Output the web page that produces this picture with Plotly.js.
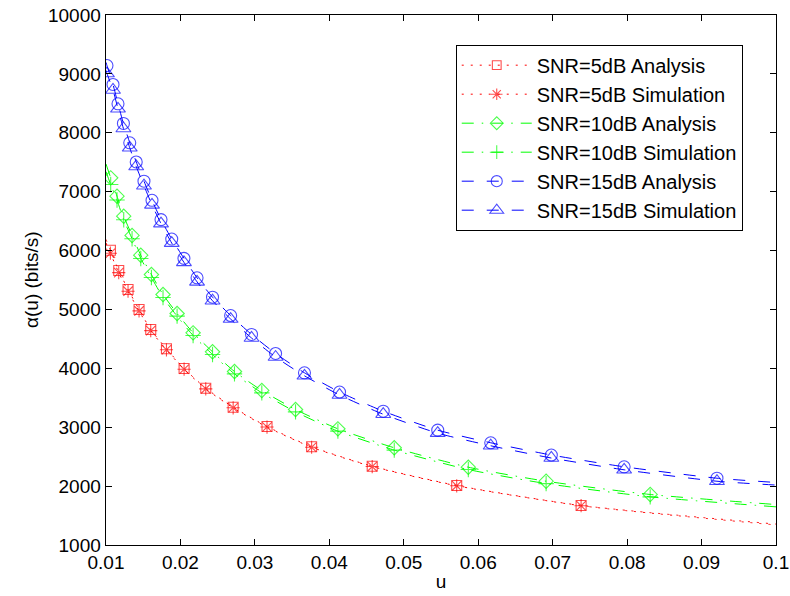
<!DOCTYPE html>
<html>
<head>
<meta charset="utf-8">
<script src="https://cdn.plot.ly/plotly-3.0.1.min.js"></script>
<style>html,body{margin:0;padding:0;background:#fff;}</style>
</head>
<body>
<div id="chart" style="width:790px;height:596px;"></div>
<script>
// ---- tick labels ----
const xTickVals = [0.01, 0.02, 0.03, 0.04, 0.05, 0.06, 0.07, 0.08, 0.09, 0.1];
const xTickText = ['0.01', '0.02', '0.03', '0.04', '0.05', '0.06', '0.07', '0.08', '0.09', '0.1'];
const yTickVals = [1000, 2000, 3000, 4000, 5000, 6000, 7000, 8000, 9000, 10000];
const yTickText = ['1000', '2000', '3000', '4000', '5000', '6000', '7000', '8000', '9000', '10000'];

// ---- series names ----
const seriesNames = ['SNR=5dB Analysis', 'SNR=5dB Simulation', 'SNR=10dB Analysis',
                     'SNR=10dB Simulation', 'SNR=15dB Analysis', 'SNR=15dB Simulation'];

// ---- SNR = 5 dB ----
const u5 = [0.0100, 0.01059, 0.01171, 0.01296, 0.01444, 0.01601, 0.01812, 0.02049, 0.02340,
            0.02708, 0.03163, 0.03762, 0.04576, 0.05711, 0.07382, 0.1000];
const alpha5Analysis = [6188, 6006, 5661, 5339, 4999, 4659, 4332, 3997, 3663,
                        3340, 3012, 2668, 2338, 2010, 1671, 1355];
const alpha5Simulation = [6130, 5955, 5625, 5310, 4975, 4640, 4315, 3985, 3652,
                          3330, 3003, 2660, 2332, 2005, 1667, 1340];

// ---- SNR = 10 dB ----
const u10 = [0.0100, 0.01063, 0.01148, 0.01238, 0.01350, 0.01467, 0.01610, 0.01766, 0.01955,
             0.02170, 0.02431, 0.02726, 0.03093, 0.03546, 0.04115, 0.04872, 0.05867, 0.06912,
             0.08310, 0.1000];
const alpha10Analysis = [7470, 7235, 6923, 6583, 6256, 5921, 5593, 5254, 4931,
                         4603, 4281, 3946, 3624, 3301, 2973, 2651, 2321, 2083,
                         1858, 1687];
const alpha10Simulation = [7340, 7121, 6858, 6523, 6201, 5866, 5543, 5204, 4886,
                           4558, 4236, 3906, 3584, 3261, 2933, 2611, 2281, 2043,
                           1818, 1648];

// ---- SNR = 15 dB ----
const u15 = [0.0100, 0.01013, 0.01094, 0.01161, 0.01234, 0.01319, 0.01406, 0.01510, 0.01618,
             0.01739, 0.01883, 0.02047, 0.02223, 0.02431, 0.02674, 0.02955, 0.03278, 0.03666,
             0.04137, 0.04724, 0.05456, 0.06168, 0.06982, 0.07960, 0.09207, 0.1000];
const alpha15Analysis = [9195, 9142, 8820, 8492, 8158, 7830, 7504, 7178, 6853,
                         6526, 6195, 5868, 5537, 5208, 4897, 4575, 4252, 3924,
                         3598, 3272, 2950, 2736, 2528, 2328, 2134, 2062];
const alpha15Simulation = [9060, 9006, 8726, 8407, 8073, 7745, 7427, 7101, 6776,
                           6458, 6127, 5800, 5469, 5148, 4837, 4515, 4192, 3873,
                           3547, 3221, 2899, 2685, 2477, 2277, 2083, 2018];

const RED = 'rgb(255,0,0)', GREEN = 'rgb(0,255,0)', BLUE = 'rgb(0,0,255)';
const DOT = '2px,7px';
const DASHDOT = '12px,8px,1.5px,8px';
const DASH = '12px,13px';
const FONT = 'Liberation Sans, Arial, sans-serif';

function sizes(arr, s) {
  return arr.map((_, i) => (i === 0 || i === arr.length - 1) ? 0 : s);
}

function mk(name, x, y, color, dash, symbol, msize) {
  return {
    type: 'scatter', mode: 'lines+markers', name: name,
    x: x, y: y,
    line: {color: color, width: 1, dash: dash, shape: 'spline', smoothing: 0.6},
    marker: {symbol: symbol, size: sizes(x, msize), color: color,
             line: {color: color, width: 1.1}},
    hoverinfo: 'skip'
  };
}

const data = [
  mk(seriesNames[0], u5, alpha5Analysis, RED, DOT, 'square-open', 10),
  mk(seriesNames[1], u5, alpha5Simulation, RED, DOT, 'asterisk-open', 11),
  mk(seriesNames[2], u10, alpha10Analysis, GREEN, DASHDOT, 'diamond-open', 11),
  mk(seriesNames[3], u10, alpha10Simulation, GREEN, DASHDOT, 'cross-thin-open', 11),
  mk(seriesNames[4], u15, alpha15Analysis, BLUE, DASH, 'circle-open', 12),
  mk(seriesNames[5], u15, alpha15Simulation, BLUE, DASH, 'triangle-up-open', 13)
];

const axisCommon = {
  showline: true, linecolor: '#000', linewidth: 1.4, mirror: 'ticks',
  ticks: 'inside', ticklen: 6, tickwidth: 1, tickcolor: '#000',
  showgrid: false, zeroline: false,
  tickfont: {family: FONT, size: 19, color: '#000'}
};

const layout = {
  width: 790, height: 596,
  margin: {l: 106, r: 14, t: 15, b: 51, pad: 0},
  paper_bgcolor: '#fff', plot_bgcolor: '#fff',
  font: {family: FONT, size: 19, color: '#000'},
  showlegend: true,
  legend: {
    x: 0.522, y: 0.944, xanchor: 'left', yanchor: 'top',
    bgcolor: '#fff', bordercolor: '#000', borderwidth: 1,
    font: {family: FONT, size: 20, color: '#000'},
    itemwidth: 70
  },
  xaxis: Object.assign({}, axisCommon, {
    range: [0.01, 0.1], tickmode: 'array', tickvals: xTickVals, ticktext: xTickText,
    title: {text: 'u', standoff: 2, font: {family: FONT, size: 19}}
  }),
  yaxis: Object.assign({}, axisCommon, {
    range: [1000, 10000], tickmode: 'array', tickvals: yTickVals, ticktext: yTickText
  }),
  annotations: [{
    text: 'α(u) (bits/s)', textangle: -90, showarrow: false,
    xref: 'paper', yref: 'paper', x: -0.112, y: 0.5, xanchor: 'center', yanchor: 'middle',
    font: {family: FONT, size: 19, color: '#000'}
  }]
};

Plotly.newPlot('chart', data, layout, {staticPlot: true, displayModeBar: false});
</script>
</body>
</html>
